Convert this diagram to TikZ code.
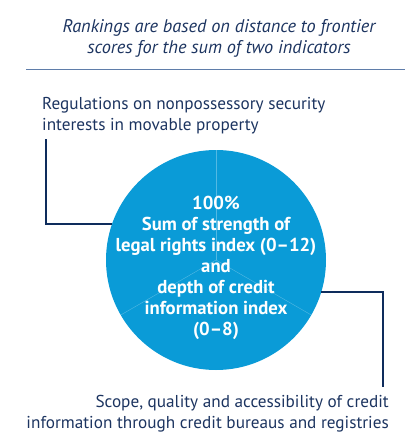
\documentclass[tikz,border=0pt]{standalone}
\usepackage{fontspec}
\setmainfont{PT Sans}
\definecolor{navy}{HTML}{1C3460}
\definecolor{linenavy}{HTML}{0E2C5C}
\definecolor{rule}{HTML}{5F7DAA}
\definecolor{ciblue}{HTML}{0A9BD7}
\begin{document}
\begin{tikzpicture}[x=1pt,y=-1pt,
  lbl/.style={text=navy,inner sep=0pt,font=\fontsize{17.2}{21}\selectfont},
  conn/.style={draw=linenavy,line width=2pt},
  spoke/.style={draw=white,opacity=0.3,line width=0.4pt}]
\useasboundingbox (0,0) rectangle (406,445);
\node[lbl,align=center,anchor=north,font=\fontsize{18.3}{21.5}\selectfont\itshape] (title) at (219,19) {Rankings are based on distance to frontier\\scores for the sum of two indicators};
\coordinate (r1) at (26,69);
\coordinate (r2) at (405,69);
\draw[rule,line width=1pt] (r1) -- (r2);
\node[lbl,align=left,anchor=north west] (left) at (42,97) {Regulations on nonpossessory security\\interests in movable property};
\node[circle,fill=ciblue,minimum size=220pt,inner sep=0pt] (circ) at (216,260) {};
\draw[spoke] (circ.center) -- (circ.90);
\draw[spoke] (circ.center) -- (circ.210);
\draw[spoke] (circ.center) -- (circ.330);
\node[align=center,text=white,font=\fontsize{18.7}{21}\selectfont\bfseries,inner sep=0pt] (ctext) at (216,268) {100\%\\Sum of strength of\\legal rights index (0--12)\\and\\depth of credit\\information index\\(0--8)};
\node[lbl,align=right,anchor=north east] (right) at (389,395) {Scope, quality and accessibility of credit\\information through credit bureaus and registries};
\coordinate (a) at (45.7,139);
\coordinate (b) at (383,387);
\draw[conn] (a) |- (circ.161);
\draw[conn] (circ.-17.5) -| (b);
\end{tikzpicture}
\end{document}
